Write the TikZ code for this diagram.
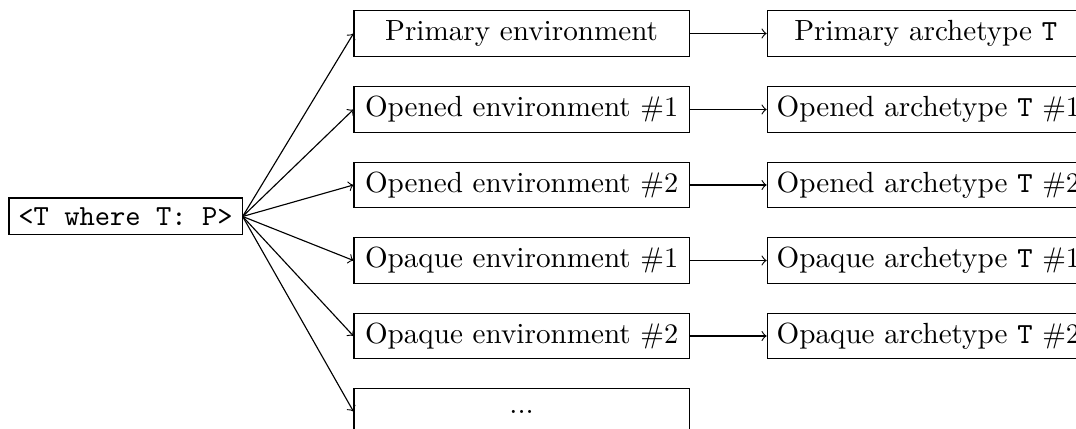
\documentclass[tikz,border=0pt]{standalone}
\usepackage{amsmath}
\usepackage{amssymb}
\usetikzlibrary{arrows}
\usetikzlibrary{positioning}

\tikzset{
  every node/.append style={font=\fontsize{10.3pt}{12.4pt}\selectfont},
  envbox/.style={draw, minimum width=118.4pt, minimum height=16pt},
  archbox/.style={draw, minimum width=112pt, minimum height=16pt},
}

\begin{document}
\begin{tikzpicture}
        \useasboundingbox (0,0) rectangle (380.2pt,151.24pt);

        \node[draw] (sig) at (44.35pt,74.74pt) {\texttt{<T where T: P>}};

        \node[envbox] (primenv) at (184.3pt,139.4pt) {Primary environment};
        \node[envbox] (openenvA) at (184.3pt,112.55pt) {Opened environment $\#1$};
        \node[envbox] (openenvB) at (184.3pt,85.87pt) {Opened environment $\#2$};
        \node[envbox] (opaqenvA) at (184.3pt,59.19pt) {Opaque environment $\#1$};
        \node[envbox] (opaqenvB) at (184.3pt,32.51pt) {Opaque environment $\#2$};
        \node[envbox] (moreenv) at (184.3pt,5.83pt) {...};

        \node[archbox, right=27.2pt of primenv] (primarch) {Primary archetype \texttt{T}};
        \node[archbox, right=27.2pt of openenvA] (openarchA) {Opened archetype \texttt{T} $\#1$};
        \node[archbox, right=27.2pt of openenvB] (openarchB) {Opened archetype \texttt{T} $\#2$};
        \node[archbox, right=27.2pt of opaqenvA] (opaqarchA) {Opaque archetype \texttt{T} $\#1$};
        \node[archbox, right=27.2pt of opaqenvB] (opaqarchB) {Opaque archetype \texttt{T} $\#2$};

        % from the signature to every environment
        \draw[->] (sig.east) -- (primenv.west);
        \draw[->] (sig.east) -- (openenvA.west);
        \draw[->] (sig.east) -- (openenvB.west);
        \draw[->] (sig.east) -- (opaqenvA.west);
        \draw[->] (sig.east) -- (opaqenvB.west);
        \draw[->] (sig.east) -- (moreenv.west);

        % environment -> archetype
        \draw[->] (primenv) -- (primarch);
        \draw[->] (openenvA) -- (openarchA);
        \draw[->] (openenvB) -- (openarchB);
        \draw[->] (opaqenvA) -- (opaqarchA);
        \draw[->] (opaqenvB) -- (opaqarchB);

        \end{tikzpicture}
\end{document}
